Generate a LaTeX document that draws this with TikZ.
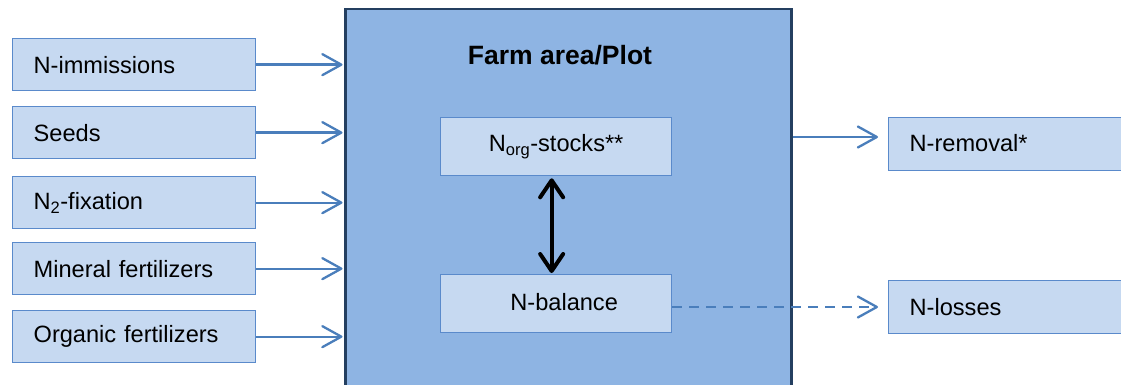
\documentclass[tikz,border=0pt]{standalone}
\usepackage{fontspec}
\setmainfont{Liberation Sans}
\usetikzlibrary{arrows.meta}
\definecolor{farmfill}{HTML}{8EB4E3}
\definecolor{farmline}{HTML}{243F60}
\definecolor{boxfill}{HTML}{C6D9F1}
\definecolor{boxline}{HTML}{5A8ACB}
\definecolor{arrowc}{HTML}{4A7EBB}
\begin{document}
\begin{tikzpicture}[x=1pt,y=-1pt,
  basebox/.style={draw=boxline, fill=boxfill, line width=1.3pt, anchor=north west, font=\fontsize{23.6}{27}\selectfont},
  inbox/.style={basebox, minimum width=243pt, minimum height=52pt, text width=201pt, inner xsep=21pt, align=left},
  outbox/.style={basebox, minimum width=300pt, minimum height=53pt, text width=258pt, inner xsep=21pt, align=left},
  ctrbox/.style={basebox, minimum width=231pt, minimum height=58pt, align=center},
  arr/.style={draw=arrowc, line width=2.3pt, -{Straight Barb[length=19pt, width=21pt, round]}},
  dbl/.style={draw=black, line width=4pt, {Straight Barb[length=17pt, width=23pt, round]}-{Straight Barb[length=17pt, width=23pt, round]}}
]
\useasboundingbox (0,0) rectangle (1121,385);
\clip (0,0) rectangle (1121,385);
% farm area
\node[draw=farmline, fill=farmfill, line width=2.5pt, anchor=north west, minimum width=446pt, minimum height=400pt, inner sep=0pt] (farm) at (344,8) {};
\node[font=\bfseries\fontsize{26.5}{30}\selectfont] (title) at (560,55) {Farm area/Plot};
% input boxes
\node[inbox] (imm) at (12,38) {N-immissions};
\node[inbox] (seed) at (12,106) {Seeds};
\node[inbox] (fix) at (12,176) {N\textsubscript{2}-fixation};
\node[inbox] (min) at (12,242) {Mineral fertilizers};
\node[inbox] (org) at (12,310) {Organic fertilizers};
% inner boxes
\node[ctrbox] (stock) at (440,117) {\raisebox{4pt}{N\textsubscript{org}-stocks**}};
\node[ctrbox] (bal) at (440,274) {\raisebox{4pt}{\hspace*{16pt}N-balance}};
% output boxes
\node[outbox] (rem) at (888,117) {\raisebox{3pt}{N-removal*}};
\node[outbox] (loss) at (888,280) {N-losses};
% connectors
\coordinate (ry) at (0,137);
\coordinate (ly) at (0,307);
\foreach \b in {imm,seed,fix,min,org}{
  \draw[arr, shorten >=1.5pt] (\b.east) -- (farm.west |- \b.east);
}
\draw[arr] (farm.east |- ry) -- ([xshift=-10pt]rem.west |- ry);
\draw[arr, dash pattern=on 10pt off 7pt] (bal.east |- ly) -- ([xshift=-10pt]loss.west |- ly);
\draw[dbl, shorten <=2pt, shorten >=1pt] ([xshift=-4.5pt]stock.south) -- ([xshift=-4.5pt]bal.north);
\end{tikzpicture}
\end{document}
